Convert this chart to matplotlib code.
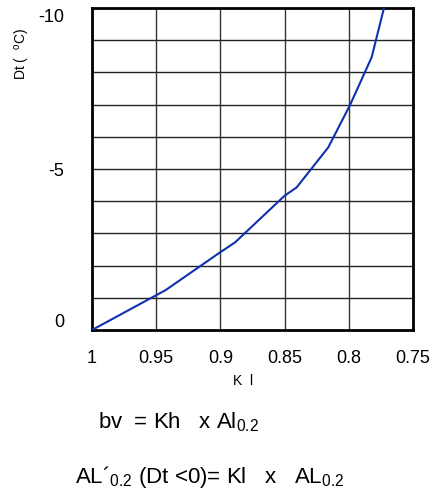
import matplotlib
matplotlib.use("Agg")
import matplotlib.pyplot as plt

plt.rcParams['font.family'] = ['Liberation Sans', 'DejaVu Sans']
plt.rcParams['mathtext.fontset'] = 'custom'
plt.rcParams['mathtext.rm'] = 'Liberation Sans'
plt.rcParams['mathtext.it'] = 'Liberation Sans'

kl = [1.0, 0.9426, 0.9003, 0.8886, 0.85, 0.8406, 0.816, 0.799, 0.7822, 0.7726]
dt = [0.0, -1.24, -2.41, -2.72, -4.17, -4.43, -5.67, -6.99, -8.47, -10.0]
x_ticks = [1, 0.95, 0.9, 0.85, 0.8, 0.75]
x_tick_labels = ['1', '0.95', '0.9', '0.85', '0.8', '0.75']
y_ticks = [0, -5, -10]
y_tick_labels = ['0', '-5', '-10']

fig = plt.figure(figsize=(4.37, 5.02), dpi=100)
ax = fig.add_axes([92/437, 1-331/502, 321/437, 322/502])
ax.set_xlim(1, 0.75)
ax.set_ylim(0, -10)
for v in [0.95, 0.9, 0.85, 0.8]:
    ax.axvline(v, color='#333333', lw=1.0, zorder=1)
for v in range(-1, -10, -1):
    ax.axhline(v, color='#222222', lw=1.0, zorder=1)
ax.plot(kl, dt, color='#1030b0', lw=1.5, zorder=3)
ax.set_xticks(x_ticks)
ax.set_xticklabels(x_tick_labels, fontsize=13)
ax.set_yticks(y_ticks)
ax.set_yticklabels(y_tick_labels, fontsize=13)
ax.tick_params(length=0, pad=14)
ax.tick_params(axis='y', pad=20)
ylabs = ax.get_yticklabels()
ylabs[0].set_va('bottom')
ylabs[2].set_va('top')
for s in ax.spines.values():
    s.set_linewidth(2)
    s.set_color('black')

fig.text(243/437, 1-381/502, 'K  l', fontsize=10, ha='center', va='center')
fig.text(23/437, 1-54/502, r'Dt (  $^{\mathrm{o}}$C)', fontsize=10, rotation=90,
         ha='center', va='center')
fig.text(98/437, 1-428/502, r'bv  = Kh   x Al$_{\mathrm{0.2}}$', fontsize=16,
         ha='left', va='baseline')
fig.text(75/437, 1-483/502, r'AL´$_{\mathrm{0.2}}$ (Dt <0)= Kl   x   AL$_{\mathrm{0.2}}$',
         fontsize=16, ha='left', va='baseline')

fig.savefig('out.png', dpi=100)
